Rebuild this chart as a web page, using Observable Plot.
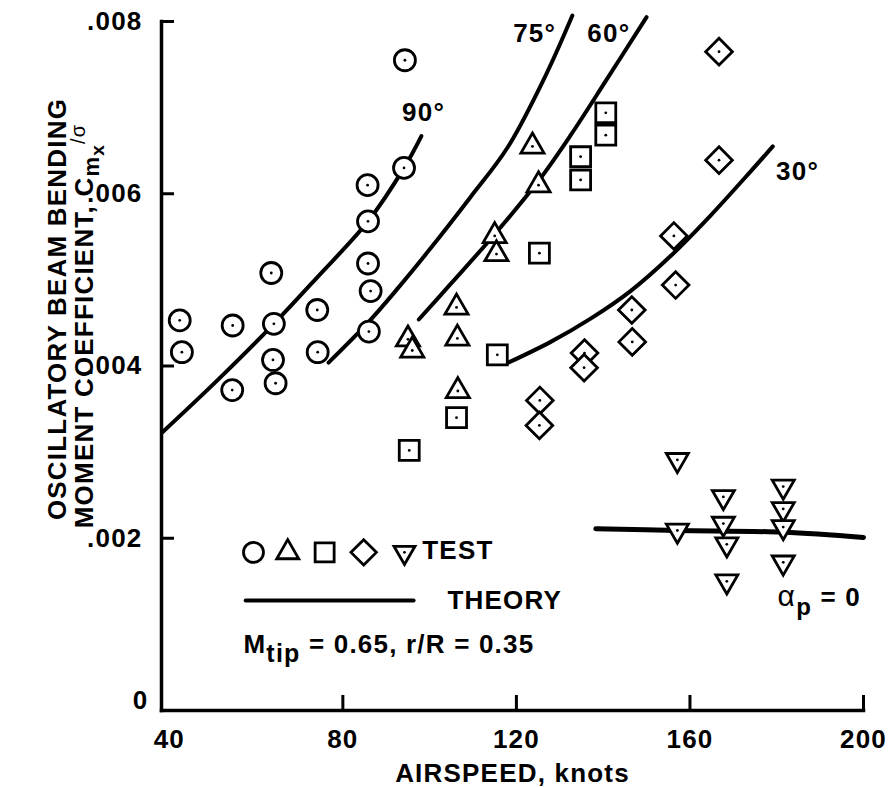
<!DOCTYPE html>
<html><head><meta charset="utf-8">
<script src="https://cdn.jsdelivr.net/npm/d3@7"></script>
<script src="https://cdn.jsdelivr.net/npm/@observablehq/plot@0.6"></script>
<style>body{margin:0;background:#fff} #chart{width:890px;height:787px}</style>
</head><body><div id="chart"></div>
<script>
// ---- data (airspeed in knots, coefficient C_mx/sigma) ----
const circles = [[94.3,0.00755],[94.1,0.00630],[85.7,0.00610],[85.8,0.00568],[85.8,0.00519],[86.4,0.00487],[63.5,0.00508],[74.1,0.00465],[42.4,0.00453],[54.6,0.00447],[64.1,0.00449],[86.0,0.00440],[42.9,0.00416],[74.2,0.00416],[63.9,0.00407],[54.5,0.00372],[64.5,0.00380]];
const triangles = [[95.0,0.00431],[96.0,0.00418],[106.2,0.00468],[106.4,0.00432],[106.5,0.00371],[123.7,0.00655],[125.1,0.00610],[115.0,0.00551],[115.4,0.00530]];
const squares = [[106.2,0.00340],[95.3,0.00302],[115.6,0.00413],[140.6,0.00694],[140.6,0.00668],[134.8,0.00643],[134.8,0.00616],[125.3,0.00531]];
const diamonds = [[166.7,0.00765],[166.7,0.00639],[156.3,0.00551],[156.7,0.00494],[146.6,0.00465],[146.7,0.00428],[135.7,0.00415],[135.6,0.00398],[125.4,0.00360],[125.3,0.00331]];
const invTriangles = [[157.1,0.00291],[167.7,0.00248],[167.7,0.00217],[168.5,0.00193],[168.5,0.00150],[157.1,0.00209],[181.5,0.00260],[181.5,0.00234],[181.5,0.00213],[181.5,0.00172]];

const theory90 = [[38.4,0.00323],[51.0,0.00383],[64.1,0.00449],[74.1,0.00503],[85.8,0.00568],[94.1,0.00630],[98.1,0.00667]];
const theory75 = [[76.7,0.00404],[85.9,0.00451],[92.8,0.00491],[99.8,0.00534],[109.4,0.00596],[118.0,0.00654],[126.7,0.00737],[132.9,0.00807]];
const theory60 = [[97.5,0.00454],[104.8,0.00495],[115.0,0.00553],[125.1,0.00615],[132.5,0.00668],[140.6,0.00731],[150.0,0.00805]];
const theory30 = [[118.2,0.00404],[127.9,0.00428],[137.1,0.00455],[146.3,0.00487],[155.6,0.00528],[164.8,0.00575],[174.0,0.00626],[179.1,0.00655]];
const theory0 = [[138.3,0.00211],[157.1,0.00209],[181.5,0.00207],[200,0.00201]];

const curveLabels = [
  {text: "90°", x: 98.6, y: 0.00694},
  {text: "75°", x: 124.2, y: 0.00786},
  {text: "60°", x: 141.3, y: 0.00786},
  {text: "30°", x: 184.8, y: 0.00626}
];

const xTicks = [40, 80, 120, 160, 200];
const xTickMarks = [80, 120, 160, 200];
const yTicks = [0.002, 0.004, 0.006, 0.008];
const yTickLabels = [".002", ".004", ".006", ".008"];
const xDomain = [38.2, 200];
const yDomain = [0, 0.008];

const xTitle = "AIRSPEED, knots";
const yTitle1 = "OSCILLATORY BEAM BENDING";
const yTitle2 = "MOMENT COEFFICIENT, Cmx/σ";

// legend / annotations (in data units)
const legendSymbolsY = 0.001836;
const legendSymbolsX = [59.4, 67.3, 75.8, 84.8, 94.2];
const legendTexts = [
  {text: "TEST", x: 98.3, y: 0.00185},
  {text: "THEORY", x: 104.1, y: 0.001276},
  {text: "Mtip = 0.65, r/R = 0.35", x: 57.1, y: 0.000766},
  {text: "αp = 0", x: 180.2, y: 0.00131}
];
const legendLine = [[57.6, 0.001276], [96.3, 0.001276]];

// ---- custom symbols ----
const rOf = size => Math.sqrt(size / Math.PI);
const triUp = {draw(c, size) { const r = rOf(size), s = 2.2 * r, h = s * Math.sqrt(3) / 2;
  c.moveTo(0, -2 * h / 3); c.lineTo(s / 2, h / 3); c.lineTo(-s / 2, h / 3); c.closePath(); }};
const triDown = {draw(c, size) { const r = rOf(size), s = 2.1 * r, h = s * Math.sqrt(3) / 2;
  c.moveTo(0, 2 * h / 3); c.lineTo(s / 2, -h / 3); c.lineTo(-s / 2, -h / 3); c.closePath(); }};
const squareSym = {draw(c, size) { const r = rOf(size), a = 0.95 * r;
  c.moveTo(-a, -a); c.lineTo(a, -a); c.lineTo(a, a); c.lineTo(-a, a); c.closePath(); }};
const diamondSym = {draw(c, size) { const r = rOf(size), a = 1.27 * r;
  c.moveTo(0, -a); c.lineTo(a, 0); c.lineTo(0, a); c.lineTo(-a, 0); c.closePath(); }};

const series = [
  {data: circles, symbol: "circle"},
  {data: triangles, symbol: triUp},
  {data: squares, symbol: squareSym},
  {data: diamonds, symbol: diamondSym},
  {data: invTriangles, symbol: triDown}
];
const legendSyms = series.map((s, i) => ({x: legendSymbolsX[i], y: legendSymbolsY, symbol: s.symbol}));

const lineOpts = {x: d => d[0], y: d => d[1], stroke: "black", strokeWidth: 4, curve: "catmull-rom"};

const marks = [
  Plot.frame({anchor: "left", strokeWidth: 3.5}),
  Plot.frame({anchor: "bottom", strokeWidth: 3.5}),
  Plot.axisY({ticks: yTicks, tickSize: 0, tickPadding: 19, tickFormat: (d, i) => yTickLabels[i], label: null}),
  Plot.axisY({ticks: [0], tickSize: 0, tickPadding: 13, dy: -10, tickFormat: () => "0", label: null}),
  Plot.axisY({ticks: yTicks, tickSize: -13, strokeWidth: 3, tickFormat: () => "", label: null}),
  Plot.axisX({ticks: xTicks, tickSize: 0, tickPadding: 19, label: null}),
  Plot.axisX({ticks: xTickMarks, tickSize: -15, strokeWidth: 3, tickFormat: () => "", label: null}),
  Plot.text([xTitle], {frameAnchor: "bottom", dy: 63, lineAnchor: "middle"}),
  Plot.text([yTitle1], {frameAnchor: "left", textAnchor: "middle", rotate: -90, dx: -104, dy: -57}),
  Plot.text([yTitle2], {frameAnchor: "left", textAnchor: "middle", rotate: -90, dx: -77, dy: -40}),
  Plot.line(theory90, lineOpts),
  Plot.line(theory75, lineOpts),
  Plot.line(theory60, lineOpts),
  Plot.line(theory30, lineOpts),
  Plot.line(theory0, {...lineOpts, strokeWidth: 5}),
  Plot.line(legendLine, {...lineOpts, curve: "linear"}),
  ...series.map(s => Plot.dot(s.data, {x: d => d[0], y: d => d[1], r: 10.5, symbol: s.symbol, stroke: "black", strokeWidth: 2.8, fill: "white"})),
  ...series.map(s => Plot.dot(s.data, {x: d => d[0], y: d => d[1], r: 1.4, fill: "black"})),
  ...legendSyms.map(d => Plot.dot([d], {x: "x", y: "y", r: 10, symbol: d.symbol, stroke: "black", strokeWidth: 2.8, fill: "white"})),
  Plot.dot([legendSyms[4]], {x: "x", y: "y", r: 1.4, fill: "black"}),
  Plot.text(curveLabels, {x: "x", y: "y", text: "text"}),
  Plot.text(legendTexts, {x: "x", y: "y", text: "text", textAnchor: "start"})
];

const svg = Plot.plot({
  width: 890, height: 787,
  marginLeft: 161, marginRight: 27, marginTop: 21, marginBottom: 77,
  x: {domain: xDomain},
  y: {domain: yDomain},
  style: {fontFamily: "'Liberation Sans', Arial, sans-serif", fontSize: "26px", fontWeight: "bold", letterSpacing: "1.2px", color: "black", background: "white", overflow: "visible"},
  marks
});

// rich text (subscripts)
const NS = "http://www.w3.org/2000/svg";
function rich(key, parts) {
  svg.querySelectorAll("text").forEach(t => {
    if (t.textContent === key) {
      t.textContent = "";
      for (const p of parts) {
        const ts = document.createElementNS(NS, "tspan");
        ts.textContent = p.s;
        if (p.dy) ts.setAttribute("dy", p.dy);
        if (p.size) ts.setAttribute("font-size", p.size);
        if (p.weight) ts.setAttribute("font-weight", p.weight);
        t.appendChild(ts);
      }
    }
  });
}
rich("Mtip = 0.65, r/R = 0.35", [{s: "M"}, {s: "tip", dy: "9", size: "25px"}, {s: " = 0.65, r/R = 0.35", dy: "-9"}]);
rich("αp = 0", [{s: "α", weight: "normal", size: "30px"}, {s: "p", dy: "9", size: "24px"}, {s: " = 0", dy: "-9"}]);
rich(yTitle2, [{s: "MOMENT COEFFICIENT, C"}, {s: "m", dy: "6", size: "22px"}, {s: "x", dy: "5", size: "19px"}, {s: "/σ", dy: "-19", size: "20px", weight: "normal"}]);

document.getElementById("chart").appendChild(svg);
</script>
</body></html>
